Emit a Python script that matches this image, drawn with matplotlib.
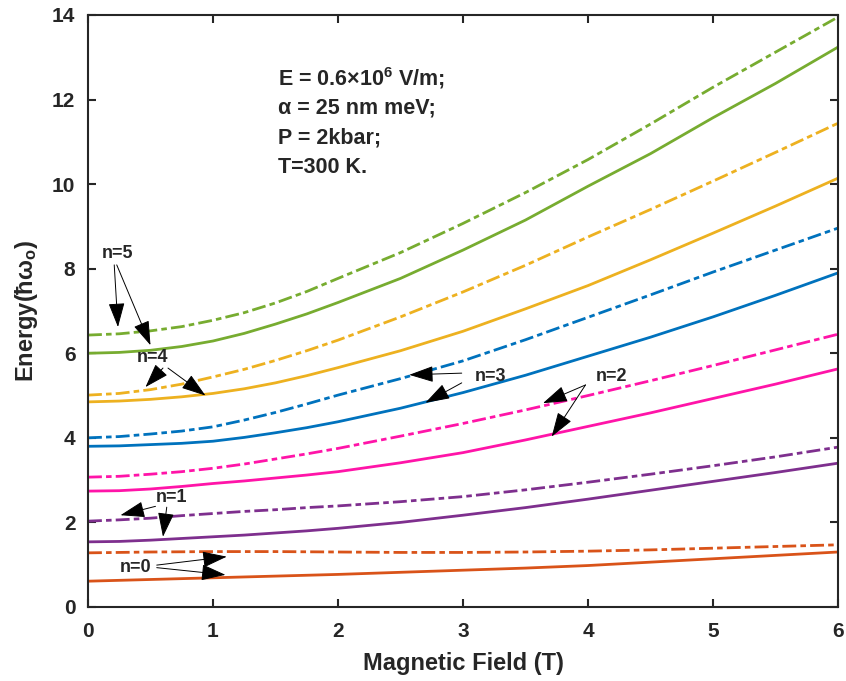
import matplotlib
matplotlib.use("Agg")
import matplotlib.pyplot as plt

plt.rcParams["font.family"] = ["Liberation Sans", "DejaVu Sans"]
plt.rcParams["font.weight"] = "bold"
plt.rcParams["mathtext.default"] = "regular"

# magnetic field (T)
field = [0, 0.25, 0.5, 0.75, 1, 1.25, 1.5, 1.75, 2, 2.5, 3, 3.5, 4, 4.5, 5, 5.5, 6]

# energies, solid and dash-dot per level
n0_solid = [0.61, 0.63, 0.65, 0.67, 0.69, 0.71, 0.73, 0.75, 0.77, 0.82, 0.87, 0.92, 0.98, 1.06, 1.14, 1.22, 1.30]
n0_dash = [1.28, 1.29, 1.30, 1.305, 1.31, 1.31, 1.31, 1.305, 1.30, 1.29, 1.29, 1.30, 1.32, 1.35, 1.39, 1.43, 1.47]
n1_solid = [1.54, 1.55, 1.58, 1.62, 1.66, 1.70, 1.75, 1.80, 1.86, 2.00, 2.17, 2.35, 2.55, 2.76, 2.97, 3.18, 3.40]
n1_dash = [2.03, 2.06, 2.10, 2.16, 2.21, 2.26, 2.30, 2.35, 2.39, 2.49, 2.61, 2.77, 2.95, 3.14, 3.34, 3.55, 3.78]
n2_solid = [2.74, 2.75, 2.79, 2.85, 2.92, 2.98, 3.05, 3.12, 3.20, 3.41, 3.65, 3.95, 4.27, 4.59, 4.93, 5.27, 5.63]
n2_dash = [3.07, 3.09, 3.14, 3.20, 3.28, 3.38, 3.50, 3.62, 3.75, 4.04, 4.34, 4.66, 5.00, 5.35, 5.71, 6.08, 6.45]
n3_solid = [3.80, 3.81, 3.84, 3.87, 3.92, 4.01, 4.12, 4.24, 4.38, 4.70, 5.07, 5.48, 5.93, 6.38, 6.86, 7.37, 7.90]
n3_dash = [4.00, 4.03, 4.09, 4.16, 4.26, 4.42, 4.60, 4.80, 5.01, 5.40, 5.82, 6.32, 6.85, 7.38, 7.92, 8.44, 8.96]
n4_solid = [4.85, 4.87, 4.91, 4.97, 5.05, 5.16, 5.30, 5.47, 5.66, 6.06, 6.52, 7.05, 7.60, 8.21, 8.84, 9.48, 10.14]
n4_dash = [5.01, 5.05, 5.14, 5.27, 5.44, 5.62, 5.83, 6.06, 6.31, 6.86, 7.45, 8.08, 8.75, 9.40, 10.07, 10.75, 11.44]
n5_solid = [6.00, 6.02, 6.07, 6.16, 6.29, 6.47, 6.69, 6.93, 7.20, 7.77, 8.44, 9.15, 9.95, 10.72, 11.57, 12.38, 13.24]
n5_dash = [6.43, 6.46, 6.53, 6.63, 6.78, 6.96, 7.19, 7.46, 7.77, 8.38, 9.07, 9.80, 10.58, 11.42, 12.29, 13.12, 13.95]

levels = [
    (n0_solid, n0_dash, "#D95319"),
    (n1_solid, n1_dash, "#7E2F8E"),
    (n2_solid, n2_dash, "#FF14A8"),
    (n3_solid, n3_dash, "#0072BD"),
    (n4_solid, n4_dash, "#EDB120"),
    (n5_solid, n5_dash, "#77AC30"),
]

# labels: (text, text pos, [(tail, tip), ...])
labels = [
    ("n=5", (0.24, 8.37), [((0.21, 8.09), (0.24, 6.62)), ((0.23, 8.09), (0.50, 6.19))]),
    ("n=4", (0.52, 5.90), [((0.60, 5.65), (0.46, 5.20)), ((0.64, 5.65), (0.94, 5.00))]),
    ("n=3", (3.22, 5.46), [((2.99, 5.53), (2.57, 5.49)), ((2.99, 5.30), (2.70, 4.83))]),
    ("n=2", (4.19, 5.46), [((3.98, 5.25), (3.64, 4.82)), ((3.98, 5.25), (3.71, 4.03))]),
    ("n=1", (0.67, 2.58), [((0.54, 2.38), (0.26, 2.17)), ((0.63, 2.36), (0.60, 1.66))]),
    ("n=0", (0.38, 0.93), [((0.55, 0.99), (1.11, 1.19)), ((0.55, 0.93), (1.10, 0.76))]),
]

fig = plt.figure(figsize=(8.46, 6.81), dpi=100)
ax = fig.add_axes([0.104, 0.1087, 0.8865, 0.8693])

for solid, dash, col in levels:
    ax.plot(field, solid, color=col, lw=2.0, solid_capstyle="butt")
    ax.plot(field, dash, color=col, lw=2.0, dashes=(5, 1.5, 2, 1.5))

for txt, pos, arrows in labels:
    ax.text(pos[0], pos[1], txt, fontsize=13, fontweight="bold", color="#262626",
            ha="center", va="center")
    for tail, tip in arrows:
        ax.annotate("", xy=tip, xytext=tail,
                    arrowprops=dict(arrowstyle="-|>,head_length=0.9,head_width=0.3",
                                    color="black", lw=0.7, shrinkA=0, shrinkB=0,
                                    mutation_scale=17))

info = ["E = 0.6×10$^{6}$ V/m;", "α = 25 nm meV;", "P = 2kbar;", "T=300 K."]
for i, line in enumerate(info):
    ax.text(1.52, 12.5 - i * 0.7, line, fontsize=15.5, fontweight="bold",
            color="#262626", va="center")

ax.set_xlim(0, 6)
ax.set_ylim(0, 14)
ax.set_xticks(range(0, 7))
ax.set_yticks(range(0, 15, 2))
ax.tick_params(direction="in", top=True, right=True, length=6, width=1.5,
               labelsize=15, colors="#262626")
ax.tick_params(axis="x", pad=11)
ax.tick_params(axis="y", pad=9)
for lab in ax.get_xticklabels() + ax.get_yticklabels():
    lab.set_fontweight("bold")
for sp in ax.spines.values():
    sp.set_linewidth(1.5)
    sp.set_color("#262626")

ax.set_xlabel("Magnetic Field (T)", fontsize=17, fontweight="bold", color="#262626", labelpad=8)
ax.set_ylabel("Energy(ħω$_o$)", fontsize=17, fontweight="bold", color="#262626", labelpad=9)

fig.savefig("out.png", dpi=100)
